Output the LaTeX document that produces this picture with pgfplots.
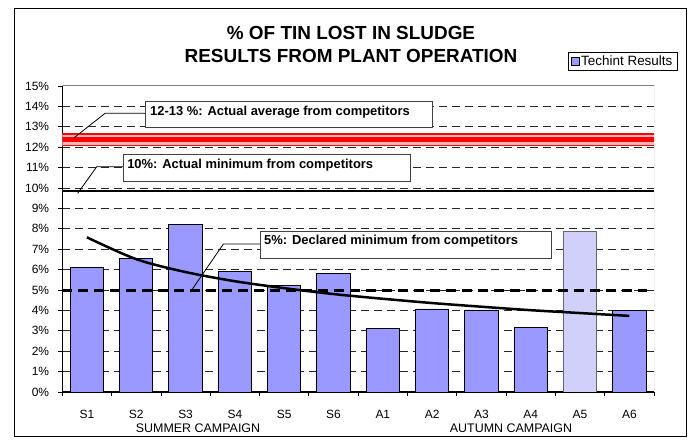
\documentclass[border=0pt]{standalone}
\usepackage{pgfplots}
\pgfplotsset{compat=1.18}
\usepackage{fontspec}
\setmainfont{Liberation Sans}
\definecolor{barblue}{RGB}{153,153,255}
\definecolor{barlight}{RGB}{208,208,250}
\definecolor{bandpink}{RGB}{255,185,185}
\begin{document}
\begin{tikzpicture}[x=1bp,y=1bp]
\useasboundingbox (0,0) rectangle (688,445);
\draw[black, line width=1bp] (14,8) rectangle (686,436);
\node[anchor=base, inner sep=0pt, font=\bfseries\fontsize{19}{22}\selectfont] at (351,405) {\% OF TIN LOST IN SLUDGE};
\node[anchor=base, inner sep=0pt, font=\bfseries\fontsize{19}{22}\selectfont] at (351,382.3) {RESULTS FROM PLANT OPERATION};
\node[anchor=base, inner sep=0pt, font=\fontsize{12.5}{14}\selectfont] at (198,12) {SUMMER CAMPAIGN};
\node[anchor=base, inner sep=0pt, font=\fontsize{12.5}{14}\selectfont] at (511,12) {AUTUMN CAMPAIGN};
\begin{axis}[
  at={(62.3bp,53bp)}, anchor=south west,
  scale only axis, width=591.7bp, height=306bp,
  xmin=-0.5, xmax=11.5, ymin=0, ymax=15,
  axis x line*=bottom, axis y line*=left,
  axis line style={black, line width=1.2bp},
  xtick={0,...,11},
  xticklabels={S1,S2,S3,S4,S5,S6,A1,A2,A3,A4,A5,A6},
  major x tick style={draw=none},
  minor xtick={-0.5,0.5,...,11.5},
  tick align=outside, major tick length=4bp, minor tick length=4bp,
  tick style={black, line width=0.8bp},
  ytick={1,...,14},
  yticklabels={1\%,2\%,3\%,4\%,5\%,6\%,7\%,8\%,9\%,10\%,11\%,12\%,13\%,14\%},
  extra y ticks={0,15}, extra y tick labels={0\%,15\%},
  extra y tick style={grid=none},
  ymajorgrids,
  grid style={black!85, line width=0.8bp, dash pattern=on 8bp off 5bp},
  yticklabel style={font=\fontsize{12}{14}\selectfont, anchor=east, inner sep=0pt, xshift=-9bp},
  xticklabel style={font=\fontsize{12}{14}\selectfont, anchor=base, inner sep=0pt, yshift=-23bp},
  legend style={at={(0.855,1.111)}, anchor=north west, draw=black, line width=0.8bp, fill=white,
    inner xsep=2.5bp, inner ysep=1.5bp, font=\fontsize{13.5}{15}\selectfont},
  legend image code/.code={\draw[fill=barblue, draw=black, line width=0.6bp] (0bp,-3.5bp) rectangle (7.5bp,4bp);},
]
% bars
\addplot[ybar, bar width=33.3bp, bar shift=0pt, fill=barblue, draw=black, line width=0.9bp]
  coordinates {(0,6.10) (1,6.55) (2,8.23) (3,5.90) (4,5.22) (5,5.80) (6,3.13) (7,4.07) (8,4.02) (9,3.18) (11,3.98)};
\addlegendentry{Techint Results}
\addplot[ybar, bar width=33.3bp, bar shift=0pt, fill=barlight, draw=black!60, line width=0.9bp, forget plot]
  coordinates {(10,7.88)};
% red band 12-13 %
\addplot[fill=bandpink, draw=none, forget plot]
  coordinates {(-0.5,12.05) (11.5,12.05) (11.5,12.68) (-0.5,12.68) (-0.5,12.05)};
\addplot[red, line width=1.2bp, forget plot] coordinates {(-0.5,12.08) (11.5,12.08)};
\addplot[red, line width=1.2bp, forget plot] coordinates {(-0.5,12.65) (11.5,12.65)};
\addplot[red, line width=4.5bp, forget plot] coordinates {(-0.5,12.37) (11.5,12.37)};
% 10% line
\addplot[black, line width=2.5bp, forget plot] coordinates {(-0.5,9.85) (11.5,9.85)};
% 5% line
\addplot[black, line width=2.5bp, dash pattern=on 10bp off 6bp, forget plot] coordinates {(-0.5,4.97) (11.35,4.97)};
% trend
\addplot[black, line width=2.5bp, smooth, forget plot]
  coordinates {(0,7.58) (1,6.51) (2,5.88) (3,5.43) (4,5.09) (5,4.80) (6,4.57) (7,4.36) (8,4.18) (9,4.01) (10,3.87) (11,3.73)};
% frame top/right
\draw[black!50, line width=1bp] (rel axis cs:0,1) -- (rel axis cs:1,1) -- (rel axis cs:1,0);
% annotation 1
\draw[black, line width=0.8bp] (axis cs:1.178,13.66) -- (axis cs:0.366,13.66) -- (axis cs:-0.257,12.47);
\draw[draw=black!75, fill=white, line width=0.9bp] (axis cs:1.178,14.26) rectangle (axis cs:7.0,12.98);
\node[anchor=base west, inner sep=0pt, font=\bfseries\fontsize{13}{15}\selectfont] at ([xshift=5bp,yshift=-14.7bp]axis cs:1.178,14.26) {12-13 \%: Actual average from competitors};
% annotation 2
\draw[black, line width=0.8bp] (axis cs:0.731,11.04) -- (axis cs:0.198,11.04) -- (axis cs:-0.188,9.74);
\draw[draw=black!75, fill=white, line width=0.9bp] (axis cs:0.733,11.62) rectangle (axis cs:6.567,10.31);
\node[anchor=base west, inner sep=0pt, font=\bfseries\fontsize{13}{15}\selectfont] at ([xshift=4bp,yshift=-13.3bp]axis cs:0.733,11.62) {10\%: Actual minimum from competitors};
% annotation 3
\draw[black, line width=0.8bp] (axis cs:3.51,7.25) -- (axis cs:2.766,7.25) -- (axis cs:2.125,5.0);
\draw[draw=black!75, fill=white, line width=0.9bp] (axis cs:3.51,7.86) rectangle (axis cs:9.43,6.55);
\node[anchor=base west, inner sep=0pt, font=\bfseries\fontsize{13}{15}\selectfont] at ([xshift=4bp,yshift=-13.3bp]axis cs:3.51,7.86) {5\%: Declared minimum from competitors};
\end{axis}
\end{tikzpicture}
\end{document}
